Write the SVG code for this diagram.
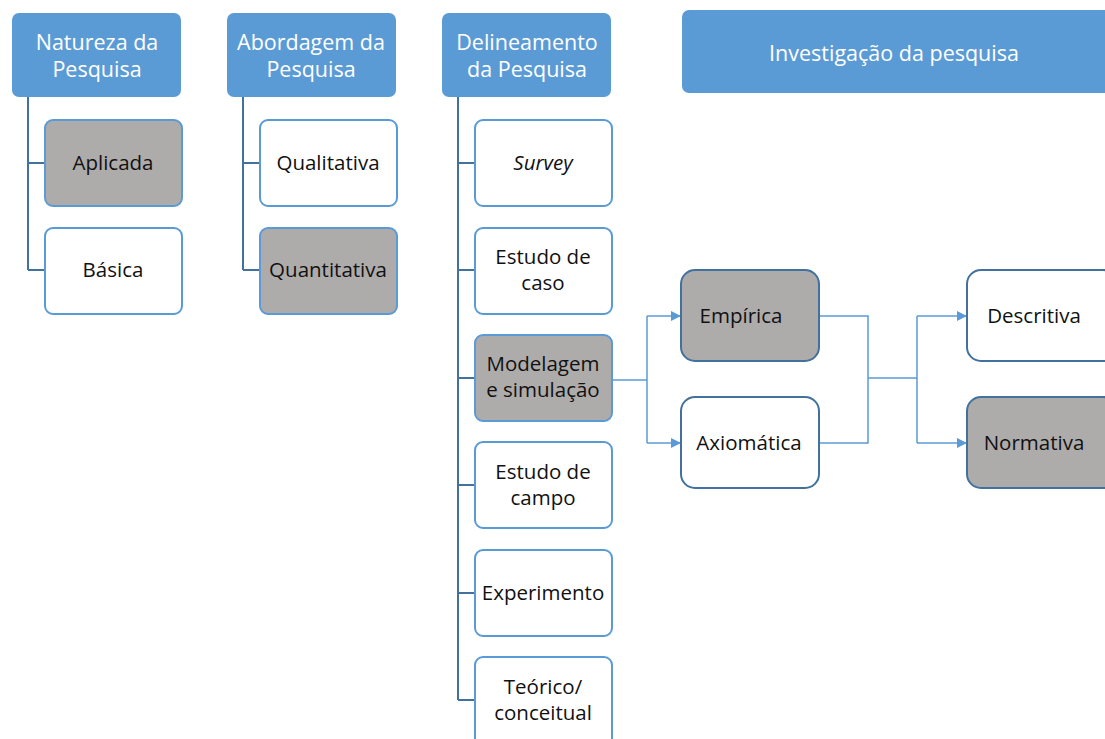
<svg xmlns="http://www.w3.org/2000/svg" width="1105" height="739" viewBox="0 0 1105 739">
  <defs>
    <style>
      .head { fill: #5b9bd5; }
      .head-t { fill: #ffffff; font-family: "Open Sans", "Liberation Sans", sans-serif; font-size: 21.5px; text-anchor: middle; }
      .box { fill: #ffffff; stroke: #5b9bd5; stroke-width: 2; }
      .box.sel { fill: #aeabab; }
      .box2 { fill: #ffffff; stroke: #41719c; stroke-width: 2; }
      .box2.sel { fill: #aeabab; }
      .lbl { fill: #111111; font-family: "Open Sans", "Liberation Sans", sans-serif; font-size: 20.5px; text-anchor: middle; }
      .tree { fill: none; stroke: #41719c; stroke-width: 2; }
      .flow { fill: none; stroke: #5b9bd5; stroke-width: 1.5; }
    </style>
    <marker id="arr" viewBox="0 0 10 10" refX="10" refY="5" markerWidth="10" markerHeight="10" markerUnits="userSpaceOnUse" orient="auto">
      <path d="M0,0 L10,5 L0,10 z" fill="#5b9bd5"/>
    </marker>
  </defs>

  <!-- connectors -->
  <g id="connectors">
    <path class="tree" d="M28,97 V270 M28,163 H45 M28,270 H45"/>
    <path class="tree" d="M243,97 V270 M243,163 H260 M243,270 H260"/>
    <path class="tree" d="M458,97 V700 M458,163 H475 M458,270 H475 M458,378 H475 M458,485 H475 M458,593 H475 M458,700 H475"/>
    <path class="flow" d="M612,380 H647 M647,316 V443"/>
    <path class="flow" d="M647,316 H681" marker-end="url(#arr)"/>
    <path class="flow" d="M647,443 H681" marker-end="url(#arr)"/>
    <path class="flow" d="M819,316 H868 V443 H819 M868,378 H917 M917,316 V443"/>
    <path class="flow" d="M917,316 H967" marker-end="url(#arr)"/>
    <path class="flow" d="M917,443 H967" marker-end="url(#arr)"/>
  </g>

  <!-- headers -->
  <g id="natureza">
    <rect class="head" x="12" y="13" width="169" height="84" rx="7"/>
    <text class="head-t" x="97" y="50">Natureza da</text>
    <text class="head-t" x="97" y="77">Pesquisa</text>
  </g>
  <g id="abordagem">
    <rect class="head" x="227" y="13" width="169" height="84" rx="7"/>
    <text class="head-t" x="311" y="50">Abordagem da</text>
    <text class="head-t" x="311" y="77">Pesquisa</text>
  </g>
  <g id="delineamento">
    <rect class="head" x="442" y="13" width="169" height="84" rx="7"/>
    <text class="head-t" x="527" y="50">Delineamento</text>
    <text class="head-t" x="527" y="77">da Pesquisa</text>
  </g>
  <g id="investigacao">
    <rect class="head" x="682" y="10" width="440" height="83" rx="7"/>
    <text class="head-t" x="894" y="61">Investigação da pesquisa</text>
  </g>

  <!-- natureza -->
  <g id="aplicada">
    <rect class="box sel" x="45" y="120" width="137" height="86" rx="8"/>
    <text class="lbl" x="113" y="170">Aplicada</text>
  </g>
  <g id="basica">
    <rect class="box" x="45" y="228" width="137" height="86" rx="8"/>
    <text class="lbl" x="113" y="277">Básica</text>
  </g>

  <!-- abordagem -->
  <g id="qualitativa">
    <rect class="box" x="260" y="120" width="137" height="86" rx="8"/>
    <text class="lbl" x="328" y="170">Qualitativa</text>
  </g>
  <g id="quantitativa">
    <rect class="box sel" x="260" y="228" width="137" height="86" rx="8"/>
    <text class="lbl" x="328" y="277">Quantitativa</text>
  </g>

  <!-- delineamento -->
  <g id="survey">
    <rect class="box" x="475" y="120" width="137" height="86" rx="8"/>
    <text class="lbl" x="543" y="170" font-style="italic">Survey</text>
  </g>
  <g id="estudo-caso">
    <rect class="box" x="475" y="228" width="137" height="86" rx="8"/>
    <text class="lbl" x="543" y="264">Estudo de</text>
    <text class="lbl" x="543" y="290">caso</text>
  </g>
  <g id="modelagem">
    <rect class="box sel" x="475" y="335" width="137" height="86" rx="8"/>
    <text class="lbl" x="543" y="371">Modelagem</text>
    <text class="lbl" x="543" y="397">e simulação</text>
  </g>
  <g id="estudo-campo">
    <rect class="box" x="475" y="442" width="137" height="86" rx="8"/>
    <text class="lbl" x="543" y="479">Estudo de</text>
    <text class="lbl" x="543" y="505">campo</text>
  </g>
  <g id="experimento">
    <rect class="box" x="475" y="550" width="137" height="86" rx="8"/>
    <text class="lbl" x="543" y="600">Experimento</text>
  </g>
  <g id="teorico">
    <rect class="box" x="475" y="657" width="137" height="90" rx="8"/>
    <text class="lbl" x="543" y="694">Teórico/</text>
    <text class="lbl" x="543" y="720">conceitual</text>
  </g>

  <!-- investigacao -->
  <g id="empirica">
    <rect class="box2 sel" x="681" y="270" width="138" height="91" rx="14"/>
    <text class="lbl" x="741" y="323">Empírica</text>
  </g>
  <g id="axiomatica">
    <rect class="box2" x="681" y="397" width="138" height="91" rx="14"/>
    <text class="lbl" x="749" y="450">Axiomática</text>
  </g>
  <g id="descritiva">
    <rect class="box2" x="967" y="270" width="150" height="91" rx="14"/>
    <text class="lbl" x="1034" y="323">Descritiva</text>
  </g>
  <g id="normativa">
    <rect class="box2 sel" x="967" y="397" width="150" height="91" rx="14"/>
    <text class="lbl" x="1034" y="450">Normativa</text>
  </g>
</svg>
